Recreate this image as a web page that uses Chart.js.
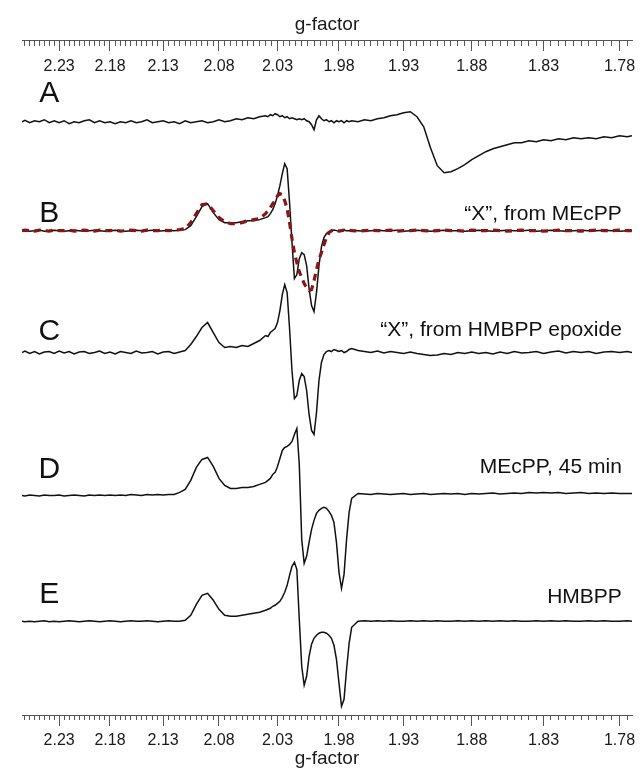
<!DOCTYPE html>
<html>
<head>
<meta charset="utf-8">
<script src="https://cdn.jsdelivr.net/npm/chart.js@4.4.1/dist/chart.umd.min.js"></script>
<style>
  html, body { margin: 0; padding: 0; background: #fff; }
  #wrap { width: 642px; height: 771px; }
</style>
</head>
<body>
<div id="wrap"><canvas id="epr" width="642" height="771"></canvas></div>
<script>
// g-factor sampling points (left to right in the picture)
const gValues = [
  2.268, 2.265, 2.26, 2.255, 2.25, 2.245, 2.24, 2.235, 2.23, 2.225,
  2.22, 2.215, 2.21, 2.205, 2.2, 2.195, 2.19, 2.185, 2.18, 2.175,
  2.17, 2.165, 2.16, 2.155, 2.15, 2.145, 2.14, 2.135, 2.13, 2.125,
  2.12, 2.115, 2.11, 2.105, 2.1, 2.095, 2.09, 2.085, 2.08, 2.075,
  2.07, 2.065, 2.06, 2.055, 2.05, 2.045, 2.04, 2.038, 2.036, 2.034,
  2.032, 2.03, 2.028, 2.026, 2.024, 2.022, 2.02, 2.018, 2.016, 2.014,
  2.012, 2.01, 2.008, 2.006, 2.004, 2.002, 2.0, 1.998, 1.996, 1.994,
  1.992, 1.99, 1.988, 1.986, 1.984, 1.982, 1.98, 1.978, 1.976, 1.974,
  1.972, 1.97, 1.965, 1.96, 1.955, 1.95, 1.945, 1.94, 1.935, 1.93,
  1.925, 1.92, 1.915, 1.91, 1.905, 1.9, 1.895, 1.89, 1.885, 1.88,
  1.875, 1.87, 1.865, 1.86, 1.855, 1.85, 1.845, 1.84, 1.835, 1.83,
  1.825, 1.82, 1.815, 1.81, 1.805, 1.8, 1.795, 1.79, 1.785, 1.78,
  1.775, 1.772
];

// spectra (arbitrary units, relative to each trace's baseline)
const traceA = [
  0, 1.5, -1, 1, 0, 2, -1, 1, -1, 1,
  -2, 0, -1, 1, 2, -1, 1, -1, 0, -2,
  0, -1, 1, -1, 0, 2, -1, 0, 1, -1,
  0, -2, 1, -1, 0, 1, -1, 0, 2, 0,
  1, 3, 2, 4, 3, 5, 6, 5, 7, 6,
  8, 7, 5, 6, 4, 5, 3, 4, 3, 2,
  3, 2, 3, 1, 0, -3, -8, 2, 6, 3,
  1, 2, 0, 1, -1, 1, 0, 1, -1, 1,
  0, 1, 0, 2, 1, 3, 4, 6, 7, 9,
  10, 5, -5, -26, -44, -51, -50, -47, -43, -38,
  -34, -30, -27, -25, -23, -21, -21, -19, -20, -18,
  -19, -17, -18, -16, -17, -16, -17, -15, -16, -14,
  -15, -14
];
const traceB = [
  0, 0.5, -0.5, 0, 0.5, -0.5, 0, 0.5, 0, -0.5,
  0, 0.5, 0, -0.5, 0, 0.5, 0, -0.5, 0, 0.5,
  0, -0.5, 0, 0.5, 0, 0, 0.5, -0.5, 0, 0.5,
  0, 0.5, 1, 5, 14, 24, 27, 18, 11, 8,
  8, 8, 9, 10, 10, 11, 13, 14, 17, 21,
  27, 35, 45, 57, 67, 62, 28, -12, -48, -44,
  -28, -22, -24, -35, -58, -75, -81, -62, -35, -16,
  -7, -3, -1, 0, 0.5, 0, -0.5, 0, 0.5, 0,
  0, 0.5, 0, -0.5, 0, 0.5, 0, 0, 0.5, -0.5,
  0, 0.5, 0, -0.5, 0, 0.5, 0, 0, -0.5, 0,
  0.5, 0, -0.5, 0, 0.5, 0, 0, 0.5, -0.5, 0,
  0.5, 0, -0.5, 0, 0.5, 0, 0, 0.5, 0, -0.5,
  0, 0
];
const traceBFit = [
  0, 0.5, 0, -0.5, 0.5, 0, -0.5, 0.5, 0, 0,
  0.5, -0.5, 0, 0.5, 0, -0.5, 0.5, 0, 0, 0.5,
  -0.5, 0, 0.5, 0, -0.5, 0.5, 0, 0, 0.5, 0,
  0.5, 1, 2, 8, 17, 26, 27, 20, 13, 9,
  7, 7, 8, 10, 11, 12, 17, 20, 23, 27,
  30, 35, 37, 36, 30, 22, 8, -8, -22, -32,
  -41, -47, -53, -57, -60, -59, -50, -39, -29, -22,
  -14, -7, -2, 0, 0.5, 0, -0.5, 0, 0.5, 0,
  0.5, 0, -0.5, 0, 0.5, 0, 0, 0.5, -0.5, 0,
  0, 0.5, 0, -0.5, 0, 0.5, 0, 0, -0.5, 0.5,
  0, 0, 0.5, 0, -0.5, 0, 0.5, 0, 0, -0.5,
  0, 0.5, 0, 0, -0.5, 0, 0.5, 0, 0, 0.5,
  0, 0
];
const traceC = [
  0, 1.5, -1, 1, -1.5, 0.5, 1, -1, 1.5, -0.5,
  1, -1.5, 0.5, 1, -1, 0, 1.5, -1, 0.5, -1.5,
  1, 0, -1, 1.5, -0.5, 0, 1, -1.5, 0.5, 1,
  -1, 0.5, 2, 8, 16, 25, 30, 20, 10, 5,
  6, 5, 7, 6, 9, 12, 17, 16, 20, 22,
  24, 30, 42, 58, 68, 60, 24, -18, -46, -43,
  -28, -21, -24, -38, -62, -78, -82, -60, -28, -10,
  -2, 1, 2, 1, 3, 2, 1, 2, 0, 1,
  3, 4, 2, 1, 0, 1.5, -0.5, 1, 0, -1,
  0.5, -1, -2, -3, -2.5, -1, -2, 0, -1, 0.5,
  -1, 0, -1.5, 0.5, -1, 1, -0.5, 0, 1, -1,
  0.5, 1.5, -0.5, 1, 0, 1, -1, 0.5, 1, 0,
  1, 0
];
const traceD = [
  -1, -1.5, -0.5, -1, -1.5, -0.5, -1, -1, -0.5, -1.5,
  -1, -0.5, -1, -1.5, -0.5, -1, -0.5, -1, -0.5, -1,
  -0.5, -1, 0, -0.5, -1, 0, -0.5, 0, -0.5, 0,
  0, 2, 5, 14, 27, 35, 37, 28, 16, 9,
  6, 6, 7, 7, 8, 10, 12, 14, 16, 20,
  22, 28, 36, 44, 47, 48, 50, 53, 60, 66,
  30, -45, -69, -62, -48, -35, -26, -19, -16, -14,
  -13, -14, -17, -21, -28, -48, -78, -94, -80, -45,
  -18, -4, 1, 0.5, 0, 1, 0.5, 0, 0.5, 1,
  0, 0.5, 1, 0, 0.5, 1, 0.5, 1, 0, 1,
  0.5, 1, 1.5, 0.5, 1, 1.5, 1, 2, 1.5, 2,
  1.5, 2, 1, 1.5, 2, 1, 1.5, 1, 1.5, 1,
  1, 1
];
const traceE = [
  0, -0.5, 0, -0.5, 0, 0.5, -0.5, 0, -0.5, 0,
  0.5, 0, -0.5, 0, 0.5, 0, -0.5, 0, 0.5, 0,
  -0.5, 0, 0.5, 0, 0, 0.5, 0, -0.5, 0, 0.5,
  0, 0, 1, 6, 17, 26, 28, 21, 12, 6,
  5, 5, 6, 7, 8, 9, 11, 12, 13, 15,
  16, 18, 20, 24, 29, 36, 46, 55, 59, 52,
  2, -45, -64, -55, -35, -23, -17, -14, -12, -11,
  -11, -12, -14, -17, -24, -38, -62, -85, -78, -48,
  -22, -6, 0, 0.5, 0, 0.5, 0, 0.5, 0, 0,
  0.5, 0, 0.5, 0, 0.5, 0, 0, 0.5, 0, 0.5,
  0, 0.5, 0, 0.5, 0, 0.5, 0, 0, 0.5, 0,
  0.5, 0, 0.5, 0, 0, 0.5, 0, 0.5, 0, 0,
  0.5, 0
];

// vertical stacking of the spectra
const traceOffsets = [594, 485, 363, 221, 94];
const traceLetters = ['A', 'B', 'C', 'D', 'E'];
const traceNotes = ['', '\u201cX\u201d, from MEcPP', '\u201cX\u201d, from HMBPP epoxide', 'MEcPP, 45 min', 'HMBPP'];

// axis
const majorTicks = [2.23, 2.18, 2.13, 2.08, 2.03, 1.98, 1.93, 1.88, 1.83, 1.78];
const minorStep = 0.005;
const gLow = 1.772;
const gHigh = 2.268;
const yTop = 675;

// where the letters / notes sit (g, y)
const letterAnchor = { g: 2.24, y: [622, 502, 384, 246, 121] };
const noteAnchor = { g: 1.7785, y: [0, 501, 385, 248, 118] };

const FONT = '"Liberation Sans", Arial, Helvetica, sans-serif';

// field axis: linear in 1/g, labelled in g
class GFactorScale extends Chart.LinearScale {
  getPixelForValue(v) {
    if (v === null || v === undefined || isNaN(v)) return NaN;
    const a = 1 / this.max, b = 1 / this.min;
    return this.getPixelForDecimal((1 / v - a) / (b - a));
  }
  getValueForPixel(p) {
    const a = 1 / this.max, b = 1 / this.min;
    return 1 / (a + this.getDecimalForPixel(p) * (b - a));
  }
}
GFactorScale.id = 'gfactor';
GFactorScale.defaults = Chart.LinearScale.defaults;
Chart.register(GFactorScale);

function minorTickList() {
  const out = [];
  for (let k = 0; ; k++) {
    const v = +(2.265 - k * minorStep).toFixed(3);
    if (v < gLow) break;
    out.push({ value: v });
  }
  return out;
}

function gAxis(yPos, major) {
  return {
    type: 'gfactor',
    position: { y: yPos },
    min: gLow,
    max: gHigh,
    afterBuildTicks: function(s) {
      s.ticks = major ? majorTicks.map(v => ({ value: v })) : minorTickList();
    },
    afterFit: function(s) { s.paddingLeft = 0; s.paddingRight = 0; },
    grid: {
      drawOnChartArea: false,
      drawTicks: true,
      tickLength: major ? 10 : 5,
      color: '#555',
      lineWidth: 1
    },
    border: { display: major, color: '#555', width: 1 },
    ticks: {
      display: major,
      autoSkip: false,
      maxRotation: 0,
      padding: 6,
      color: '#1a1a1a',
      font: { family: FONT, size: 16 },
      callback: v => Number(v).toFixed(2)
    }
  };
}

function lineSet(values, k, color, dashed) {
  return {
    data: gValues.map((g, i) => ({ x: g, y: traceOffsets[k] + values[i] })),
    borderColor: color,
    borderWidth: dashed ? 3.2 : 1.5,
    borderDash: dashed ? [7, 5] : [],
    pointRadius: 0,
    tension: 0,
    fill: false,
    order: dashed ? 0 : 1,
    xAxisID: 'x'
  };
}

const labelPlugin = {
  id: 'traceLabels',
  afterDatasetsDraw(chart) {
    const ctx = chart.ctx;
    const xs = chart.scales.x, ys = chart.scales.y;
    ctx.save();
    ctx.fillStyle = '#111';
    ctx.textBaseline = 'middle';
    ctx.font = '30px ' + FONT;
    ctx.textAlign = 'center';
    traceLetters.forEach((t, i) => {
      ctx.fillText(t, xs.getPixelForValue(letterAnchor.g), ys.getPixelForValue(letterAnchor.y[i]));
    });
    ctx.font = '21px ' + FONT;
    ctx.textAlign = 'right';
    traceNotes.forEach((t, i) => {
      if (!t) return;
      ctx.fillText(t, xs.getPixelForValue(noteAnchor.g), ys.getPixelForValue(noteAnchor.y[i]));
    });
    ctx.restore();
  }
};

new Chart(document.getElementById('epr'), {
  type: 'line',
  data: {
    datasets: [
      lineSet(traceA, 0, '#111', false),
      lineSet(traceB, 1, '#111', false),
      lineSet(traceBFit, 1, '#8a1515', true),
      lineSet(traceC, 2, '#111', false),
      lineSet(traceD, 3, '#111', false),
      lineSet(traceE, 4, '#111', false)
    ]
  },
  options: {
    responsive: false,
    animation: false,
    devicePixelRatio: 1,
    layout: { padding: { left: 22, right: 10, top: 0, bottom: 1 } },
    scales: {
      y: { type: 'linear', min: 0, max: yTop, display: false },
      x: gAxis(0, true),
      xMinorBottom: gAxis(0, false),
      xTop: gAxis(yTop, true),
      xMinorTop: gAxis(yTop, false)
    },
    plugins: {
      legend: { display: false },
      tooltip: { enabled: false },
      title: {
        display: true,
        text: 'g-factor',
        color: '#1a1a1a',
        font: { family: FONT, size: 19, weight: 'normal' },
        padding: { top: 13, bottom: 5 }
      },
      subtitle: {
        display: true,
        position: 'bottom',
        text: 'g-factor',
        color: '#1a1a1a',
        font: { family: FONT, size: 19, weight: 'normal' },
        padding: { top: 32, bottom: 0 }
      }
    }
  },
  plugins: [labelPlugin]
});
</script>
</body>
</html>
